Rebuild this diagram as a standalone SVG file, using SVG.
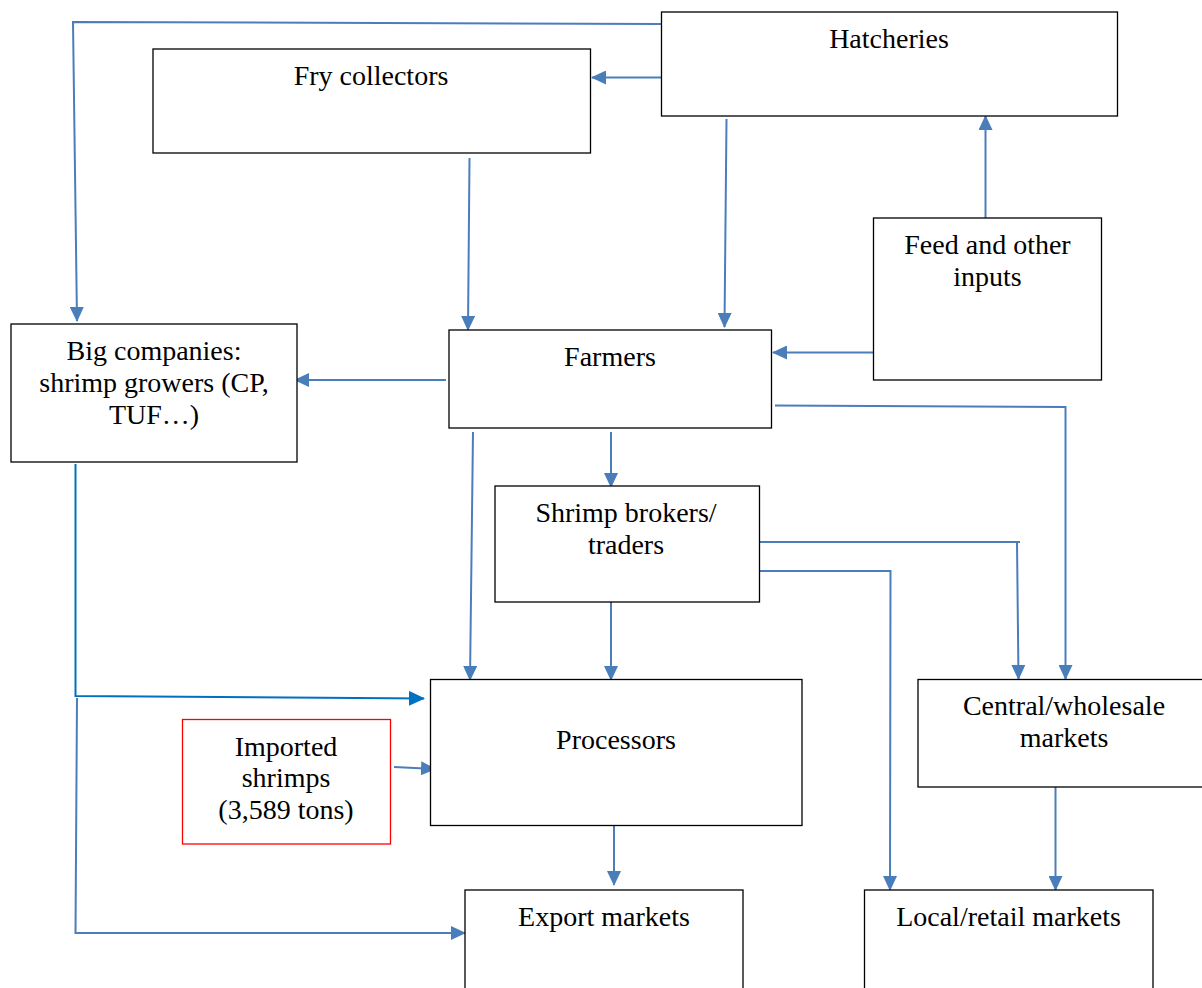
<svg xmlns="http://www.w3.org/2000/svg" width="1202" height="988" viewBox="0 0 1202 988">
<style>
.box{fill:#fff;stroke:#000;stroke-width:1.3}
.red{fill:#fff;stroke:#ff0000;stroke-width:1.3}
.t{font-family:"Liberation Serif","Times New Roman",serif;font-size:28px;fill:#000;text-anchor:middle}
.c{fill:none;stroke:#4a7ebb;stroke-width:2;marker-end:url(#ah)}
.cn{fill:none;stroke:#4a7ebb;stroke-width:2}
.cd{fill:none;stroke:#0070c0;stroke-width:2;marker-end:url(#ahd)}
</style>
<defs>
<marker id="ah" markerUnits="userSpaceOnUse" markerWidth="15" markerHeight="14" viewBox="0 0 15 14" refX="14" refY="7" orient="auto"><path d="M0,0 L15,7 L0,14 z" fill="#4a7ebb"/></marker>
<marker id="ahd" markerUnits="userSpaceOnUse" markerWidth="16" markerHeight="15" viewBox="0 0 16 15" refX="15" refY="7.5" orient="auto"><path d="M0,0 L16,7.5 L0,15 z" fill="#0070c0"/></marker>
</defs>
<rect width="1202" height="988" fill="#fff"/>
<g id="connectors">
<path class="c" d="M661,24 L73,22 L77,321"/>
<path class="c" d="M661,77.5 L592,77.5"/>
<path class="c" d="M469.5,158 L468,330"/>
<path class="c" d="M726.5,119 L724.5,327"/>
<path class="c" d="M985.5,220 L985.5,116"/>
<path class="c" d="M873,352.5 L773,352.5"/>
<path class="c" d="M446,380 L295,380"/>
<path class="c" d="M775,405.5 L1065.5,407 L1065.5,679"/>
<path class="c" d="M611,432 L611,487"/>
<path class="c" d="M473,432 L470,680"/>
<path class="c" d="M611,599 L611,680"/>
<path class="cn" d="M759,542 L1020,542"/>
<path class="c" d="M1017,542 L1018.5,679"/>
<path class="c" d="M759,571 L890.5,571 L890,890"/>
<path class="c" d="M1055.5,787 L1055.5,890"/>
<path class="cd" d="M75.5,464 L75.5,696 L424,698.5"/>
<path class="c" d="M77,698 L75.5,933 L465,933"/>
<path class="c" d="M394,767 L435,769"/>
<path class="c" d="M614,826 L614,885"/>
</g>
<g id="hatcheries"><rect class="box" x="661.5" y="12" width="456" height="104"/><text class="t" x="889" y="48">Hatcheries</text></g>
<g id="fry-collectors"><rect class="box" x="153" y="49" width="437.5" height="104"/><text class="t" x="371" y="85">Fry collectors</text></g>
<g id="feed"><rect class="box" x="873.5" y="218" width="228" height="162"/><text class="t" x="987.5" y="254">Feed and other</text><text class="t" x="987.5" y="286">inputs</text></g>
<g id="big-companies"><rect class="box" x="11" y="324" width="286" height="138"/><text class="t" x="154" y="360">Big companies:</text><text class="t" x="154" y="392">shrimp growers (CP,</text><text class="t" x="154" y="424">TUF…)</text></g>
<g id="farmers"><rect class="box" x="449" y="330" width="322.5" height="98"/><text class="t" x="610" y="366">Farmers</text></g>
<g id="brokers"><rect class="box" x="495" y="486" width="264.5" height="116"/><text class="t" x="626" y="522">Shrimp brokers/</text><text class="t" x="626" y="554">traders</text></g>
<g id="processors"><rect class="box" x="430.5" y="679.5" width="371.5" height="146"/><text class="t" x="616" y="749">Processors</text></g>
<g id="imported"><rect class="red" x="182.5" y="719.5" width="208" height="124.5"/><text class="t" x="286" y="756">Imported</text><text class="t" x="286" y="787">shrimps</text><text class="t" x="286" y="819">(3,589 tons)</text></g>
<g id="central"><rect class="box" x="918" y="679.5" width="300" height="107.5"/><text class="t" x="1064" y="715">Central/wholesale</text><text class="t" x="1064" y="747">markets</text></g>
<g id="export"><rect class="box" x="465" y="890" width="278" height="110"/><text class="t" x="604" y="926">Export markets</text></g>
<g id="local"><rect class="box" x="864.5" y="890" width="288.5" height="110"/><text class="t" x="1008.5" y="926">Local/retail markets</text></g>
</svg>
